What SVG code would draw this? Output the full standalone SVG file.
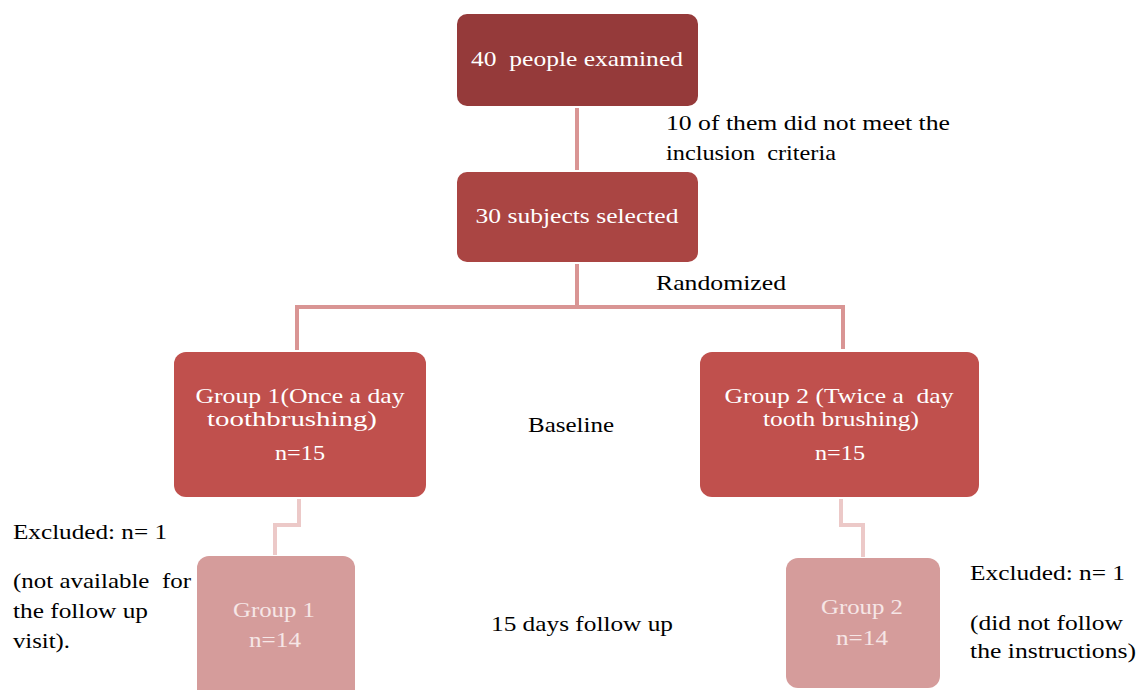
<svg xmlns="http://www.w3.org/2000/svg" width="1137" height="690" viewBox="0 0 1137 690">
<style>
text{font-family:"Liberation Serif","Times New Roman",serif;font-size:22px;white-space:pre}
.w{fill:#ffffff;text-anchor:middle}
.w2{fill:#f6e6e6;text-anchor:middle}
.k{fill:#000000}
.c{fill:none;stroke:#d99594;stroke-width:4}
.c2{fill:none;stroke:#ecc9c8;stroke-width:4}
</style>
<rect width="1137" height="690" fill="#ffffff"/>
<g id="connectors">
<line class="c" x1="577" y1="108" x2="577" y2="170"/>
<polyline class="c" points="577,264 577,307 297,307 297,350"/>
<polyline class="c" points="577,307 843,307 843,349"/>
<polyline class="c2" points="299,499 299,525 275,525 275,555"/>
<polyline class="c2" points="841,499 841,525 863,525 863,557"/>
</g>
<g id="n1"><rect x="457" y="14" width="241" height="92" rx="10" fill="#953a3a"/><text class="w" x="577" y="66" textLength="212" lengthAdjust="spacingAndGlyphs">40  people examined</text></g>
<g id="n2"><rect x="457" y="172" width="241" height="90" rx="10" fill="#aa4543"/><text class="w" x="577" y="223" textLength="203" lengthAdjust="spacingAndGlyphs">30 subjects selected</text></g>
<g id="n3"><rect x="174" y="352" width="252" height="145" rx="12" fill="#c0504d"/><text class="w" x="300" y="403" textLength="209" lengthAdjust="spacingAndGlyphs">Group 1(Once a day</text><text class="w" x="292" y="426" textLength="170" lengthAdjust="spacingAndGlyphs">toothbrushing)</text><text class="w" x="300" y="460" textLength="50" lengthAdjust="spacingAndGlyphs">n=15</text></g>
<g id="n4"><rect x="700" y="352" width="279" height="145" rx="12" fill="#c0504d"/><text class="w" x="839" y="403" textLength="229" lengthAdjust="spacingAndGlyphs">Group 2 (Twice a  day</text><text class="w" x="841" y="426" textLength="156" lengthAdjust="spacingAndGlyphs">tooth brushing)</text><text class="w" x="840" y="460" textLength="50" lengthAdjust="spacingAndGlyphs">n=15</text></g>
<g id="n5"><rect x="197" y="556" width="158" height="145" rx="12" fill="#d59c9b"/><text class="w2" x="274" y="617" textLength="82" lengthAdjust="spacingAndGlyphs">Group 1</text><text class="w2" x="275" y="647" textLength="52" lengthAdjust="spacingAndGlyphs">n=14</text></g>
<g id="n6"><rect x="786" y="558" width="154" height="130" rx="12" fill="#d59c9b"/><text class="w2" x="862" y="614" textLength="82" lengthAdjust="spacingAndGlyphs">Group 2</text><text class="w2" x="862" y="645" textLength="52" lengthAdjust="spacingAndGlyphs">n=14</text></g>
<g id="labels">
<text class="k" x="666" y="130" textLength="284" lengthAdjust="spacingAndGlyphs">10 of them did not meet the</text>
<text class="k" x="666" y="160" textLength="170" lengthAdjust="spacingAndGlyphs">inclusion  criteria</text>
<text class="k" x="656" y="290" textLength="130" lengthAdjust="spacingAndGlyphs">Randomized</text>
<text class="k" x="528" y="432" textLength="86" lengthAdjust="spacingAndGlyphs">Baseline</text>
<text class="k" x="13" y="539" textLength="154" lengthAdjust="spacingAndGlyphs">Excluded: n= 1</text>
<text class="k" x="13" y="588" textLength="178" lengthAdjust="spacingAndGlyphs">(not available  for</text>
<text class="k" x="13" y="618" textLength="135" lengthAdjust="spacingAndGlyphs">the follow up</text>
<text class="k" x="13" y="648" textLength="57" lengthAdjust="spacingAndGlyphs">visit).</text>
<text class="k" x="491" y="631" textLength="182" lengthAdjust="spacingAndGlyphs">15 days follow up</text>
<text class="k" x="970" y="580" textLength="155" lengthAdjust="spacingAndGlyphs">Excluded: n= 1</text>
<text class="k" x="970" y="630" textLength="153" lengthAdjust="spacingAndGlyphs">(did not follow</text>
<text class="k" x="970" y="658" textLength="166" lengthAdjust="spacingAndGlyphs">the instructions)</text>
</g>
</svg>
